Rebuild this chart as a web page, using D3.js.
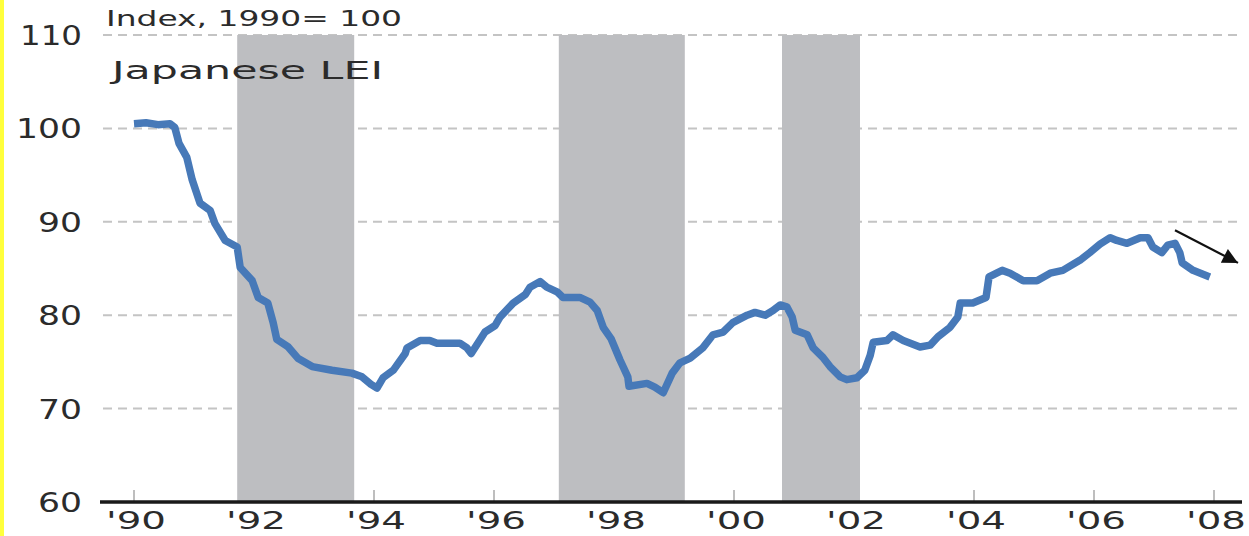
<!DOCTYPE html>
<meta charset="utf-8">
<style>
    body {
        margin: 0;
        background-color: #fff;
    }

    text {
        font-family: "DejaVu Sans", sans-serif;
        fill: #2b2b2b;
    }

    .grid line {
        stroke: #c4c4c4;
        stroke-width: 2px;
        stroke-dasharray: 9, 6;
    }

    .band {
        fill: #bdbec1;
    }

    .line {
        fill: none;
        stroke: #4779b8;
        stroke-width: 7.5px;
        stroke-linejoin: round;
    }
</style>

<body>
    <svg width="1249" height="536"></svg>
</body>
<script src="https://d3js.org/d3.v7.min.js"></script>
<script>
    // Japanese LEI (decimal year, index)
    var leiYear = [
        1990.00, 1990.20, 1990.40, 1990.60, 1990.68, 1990.75, 1990.88, 1990.97, 1991.10, 1991.27,
        1991.35, 1991.52, 1991.72, 1991.77, 1991.97, 1992.07, 1992.23, 1992.32, 1992.38, 1992.57,
        1992.73, 1992.97, 1993.30, 1993.63, 1993.80, 1993.95, 1994.05, 1994.15, 1994.32, 1994.52,
        1994.55, 1994.77, 1994.93, 1995.05, 1995.43, 1995.55, 1995.62, 1995.73, 1995.85, 1996.02,
        1996.10, 1996.32, 1996.52, 1996.60, 1996.77, 1996.88, 1997.05, 1997.15, 1997.43, 1997.60,
        1997.72, 1997.82, 1997.95, 1998.10, 1998.23, 1998.25, 1998.55, 1998.68, 1998.82, 1998.97,
        1999.10, 1999.27, 1999.48, 1999.65, 1999.82, 1999.98, 2000.22, 2000.35, 2000.52, 2000.65,
        2000.77, 2000.88, 2000.97, 2001.02, 2001.22, 2001.32, 2001.48, 2001.60, 2001.77, 2001.88,
        2002.05, 2002.18, 2002.27, 2002.32, 2002.55, 2002.65, 2002.82, 2003.10, 2003.27, 2003.40,
        2003.60, 2003.73, 2003.77, 2003.98, 2004.20, 2004.25, 2004.47, 2004.60, 2004.82, 2005.05,
        2005.27, 2005.48, 2005.77, 2005.93, 2006.10, 2006.27, 2006.38, 2006.55, 2006.77, 2006.90,
        2006.98, 2007.13, 2007.23, 2007.35, 2007.43, 2007.47, 2007.65, 2007.93
    ];
    var leiValue = [
        100.5, 100.6, 100.4, 100.5, 100.1, 98.4, 96.9, 94.5, 92.0, 91.2,
        89.8, 88.0, 87.3, 85.1, 83.7, 81.9, 81.3, 79.2, 77.4, 76.6,
        75.4, 74.5, 74.1, 73.8, 73.4, 72.6, 72.2, 73.3, 74.1, 75.9,
        76.5, 77.3, 77.3, 77.0, 77.0, 76.5, 75.9, 77.0, 78.2, 78.9,
        79.8, 81.3, 82.2, 83.0, 83.6, 83.0, 82.5, 81.9, 81.9, 81.4,
        80.5, 78.7, 77.5, 75.2, 73.4, 72.4, 72.7, 72.3, 71.7, 73.8,
        74.9, 75.4, 76.5, 77.9, 78.2, 79.2, 80.0, 80.3, 80.0, 80.5,
        81.1, 80.9, 79.8, 78.4, 77.9, 76.5, 75.5, 74.5, 73.4, 73.1,
        73.3, 74.1, 75.7, 77.1, 77.3, 77.9, 77.3, 76.6, 76.8, 77.7,
        78.7, 79.8, 81.3, 81.3, 81.9, 84.1, 84.8, 84.5, 83.7, 83.7,
        84.5, 84.8, 85.9, 86.7, 87.6, 88.3, 88.0, 87.7, 88.3, 88.3,
        87.3, 86.7, 87.5, 87.7, 86.7, 85.6, 84.8, 84.1
    ];

    // shaded recession periods
    var bandStart = [1991.72, 1997.08, 2000.80];
    var bandEnd = [1993.67, 1999.18, 2002.10];

    var yTicks = [60, 70, 80, 90, 100, 110];
    var xTicks = [1990, 1992, 1994, 1996, 1998, 2000, 2002, 2004, 2006, 2008];
    var xTickLabels = ["'90", "'92", "'94", "'96", "'98", "'00", "'02", "'04", "'06", "'08"];

    // arrow annotation (year, index)
    var arrowFrom = [2007.35, 89.1];
    var arrowTo = [2008.40, 85.6];

    var svg = d3.select("svg");

    var x = d3.scaleLinear().domain([1990, 2008]).range([134, 1214]);
    var y = d3.scaleLinear().domain([60, 110]).range([502, 35]);

    var data = leiYear.map(function(t, i) {
        return { t: t, v: leiValue[i] };
    });

    // yellow edge on the left
    svg.append("rect")
        .attr("x", 0)
        .attr("y", 0)
        .attr("width", 4)
        .attr("height", 536)
        .attr("fill", "#ffff3c");

    // dashed grid
    svg.append("g")
        .attr("class", "grid")
        .selectAll("line")
        .data(yTicks.filter(function(d) { return d > 60; }))
        .join("line")
        .attr("x1", 103)
        .attr("x2", 1242)
        .attr("y1", function(d) { return y(d); })
        .attr("y2", function(d) { return y(d); });

    // x tick marks
    svg.append("g")
        .selectAll("line")
        .data(xTicks)
        .join("line")
        .attr("x1", function(d) { return x(d); })
        .attr("x2", function(d) { return x(d); })
        .attr("y1", y(60) - 12)
        .attr("y2", y(60))
        .attr("stroke", "#a8a8a8")
        .attr("stroke-width", 1.5);

    // recession bands
    svg.append("g")
        .selectAll("rect")
        .data(bandStart)
        .join("rect")
        .attr("class", "band")
        .attr("x", function(d) { return x(d); })
        .attr("width", function(d, i) { return x(bandEnd[i]) - x(d); })
        .attr("y", y(110))
        .attr("height", y(60) - y(110));

    // x axis line
    svg.append("line")
        .attr("x1", 100)
        .attr("x2", 1242)
        .attr("y1", y(60))
        .attr("y2", y(60))
        .attr("stroke", "#1a1a1a")
        .attr("stroke-width", 3.5);

    // y labels
    svg.append("g")
        .selectAll("text")
        .data(yTicks)
        .join("text")
        .attr("x", 82)
        .attr("y", function(d) { return y(d) + 10; })
        .attr("text-anchor", "end")
        .style("font-size", "26px")
        .attr("textLength", function(d) { return String(d).length * 22 + (d === 110 ? -4 : 0); })
        .attr("lengthAdjust", "spacingAndGlyphs")
        .text(function(d) { return d; });

    // x labels
    svg.append("g")
        .selectAll("text")
        .data(xTicks)
        .join("text")
        .attr("x", function(d) { return x(d) + 2; })
        .attr("y", 529)
        .attr("text-anchor", "middle")
        .style("font-size", "24px")
        .attr("textLength", 60)
        .attr("lengthAdjust", "spacingAndGlyphs")
        .text(function(d, i) { return xTickLabels[i]; });

    var line = d3.line()
        .x(function(d) { return x(d.t); })
        .y(function(d) { return y(d.v); });

    svg.append("path")
        .datum(data)
        .attr("class", "line")
        .attr("d", line);

    // arrow
    svg.append("defs").append("marker")
        .attr("id", "head")
        .attr("viewBox", "0 0 10 10")
        .attr("refX", 10)
        .attr("refY", 5)
        .attr("markerWidth", 12)
        .attr("markerHeight", 7)
        .attr("markerUnits", "strokeWidth")
        .attr("orient", "auto")
        .append("path")
        .attr("d", "M0,0L10,5L0,10z")
        .attr("fill", "#111");

    svg.append("line")
        .attr("x1", x(arrowFrom[0]))
        .attr("y1", y(arrowFrom[1]))
        .attr("x2", x(arrowTo[0]))
        .attr("y2", y(arrowTo[1]))
        .attr("stroke", "#111")
        .attr("stroke-width", 2.2)
        .attr("marker-end", "url(#head)");

    // titles
    svg.append("text")
        .attr("x", 106)
        .attr("y", 26)
        .style("font-size", "22px")
        .attr("textLength", 296)
        .attr("lengthAdjust", "spacingAndGlyphs")
        .text("Index, 1990= 100");

    svg.append("text")
        .attr("x", 112)
        .attr("y", 79)
        .style("font-size", "25px")
        .attr("textLength", 271)
        .attr("lengthAdjust", "spacingAndGlyphs")
        .text("Japanese LEI");
</script>
